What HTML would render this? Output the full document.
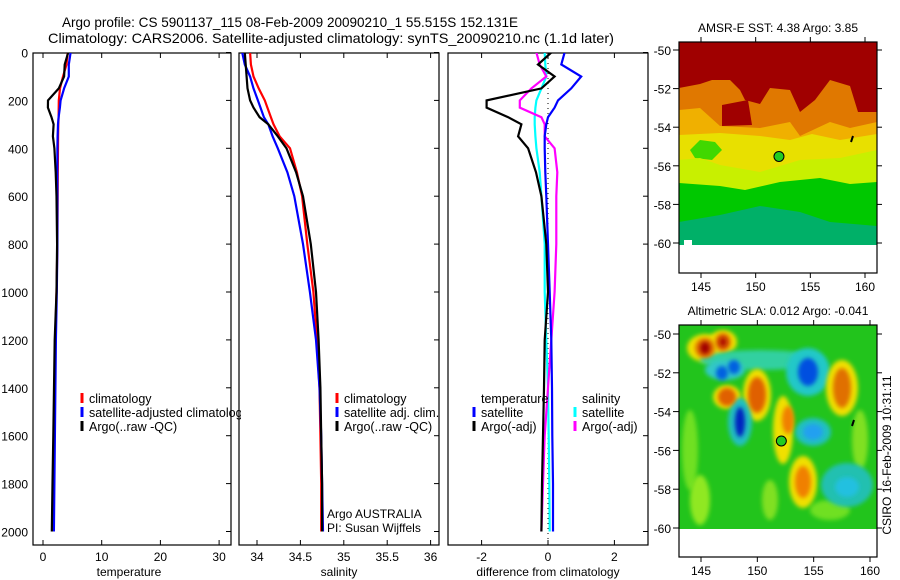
<!DOCTYPE html>
<html><head><meta charset="utf-8"><style>
html,body{margin:0;padding:0;background:#fff;}
svg{display:block;font-family:"Liberation Sans",sans-serif;}
</style></head><body>
<svg id="fig" width="900" height="580" viewBox="0 0 900 580" xmlns="http://www.w3.org/2000/svg">
<defs>
<clipPath id="c1"><rect x="33" y="53" width="198" height="492"/></clipPath>
<clipPath id="c1l"><rect x="33" y="53" width="208" height="492"/></clipPath>
<clipPath id="c2"><rect x="239" y="53" width="200" height="492"/></clipPath>
<clipPath id="c3"><rect x="448" y="53" width="200" height="492"/></clipPath>
<clipPath id="cm1"><rect x="679" y="42" width="198" height="203"/></clipPath>
<clipPath id="cm2"><rect x="679" y="325" width="198" height="204"/></clipPath>
<filter id="blur2" x="-50%" y="-50%" width="200%" height="200%"><feGaussianBlur stdDeviation="2"/></filter>
</defs>
<text x="62" y="27" font-size="14" textLength="456" lengthAdjust="spacingAndGlyphs">Argo profile: CS 5901137_115 08-Feb-2009 20090210_1 55.515S 152.131E</text>
<text x="48" y="43" font-size="14" textLength="566" lengthAdjust="spacingAndGlyphs">Climatology: CARS2006. Satellite-adjusted climatology: synTS_20090210.nc (1.1d later)</text>
<g id="p1"></g>
<g id="p2"></g>
<g id="p3"></g>
<g id="m1"></g>
<g id="m2"></g>
<text transform="translate(891,455) rotate(-90)" text-anchor="middle" font-size="12">CSIRO 16-Feb-2009 10:31:11</text>
</svg>
<script>
// ---- data ----
const depths = [0,50,100,150,200,230,270,300,350,400,500,600,800,1000,1200,1400,1600,1800,2000];
const tempClim = [4.2,4.0,3.4,2.9,2.7,2.68,2.65,2.6,2.58,2.55,2.52,2.5,2.45,2.3,2.1,2.0,1.9,1.8,1.7];
const tempSatDiff = [0.5,0.4,1.0,0.7,0.3,0.2,0.0,-0.05,-0.1,-0.1,-0.08,-0.05,0.0,0.05,0.1,0.12,0.13,0.15,0.15];
const tempArgoDiff = [0.1,-0.3,0.2,-0.2,-1.85,-1.85,-1.2,-0.8,-0.9,-0.6,-0.36,-0.2,-0.05,0.0,-0.1,-0.12,-0.15,-0.18,-0.2];
const salClim = [33.92,33.93,33.96,34.02,34.09,34.12,34.16,34.19,34.26,34.38,34.46,34.52,34.58,34.65,34.69,34.72,34.73,34.74,34.74];
const salSat = [33.83,33.86,33.92,33.96,34.01,34.04,34.08,34.13,34.18,34.24,34.35,34.43,34.53,34.61,34.68,34.72,34.74,34.75,34.76];
const salArgo = [33.86,33.87,33.88,33.89,33.92,33.96,34.03,34.13,34.24,34.34,34.45,34.53,34.62,34.68,34.71,34.73,34.74,34.75,34.75];
const salSatDiff = [-0.1,-0.08,-0.05,-0.2,-0.35,-0.38,-0.4,-0.4,-0.38,-0.35,-0.25,-0.2,-0.1,-0.1,-0.05,0.0,0.02,0.04,0.05];
const salArgoDiff = [-0.35,-0.25,-0.05,-0.5,-0.85,-0.85,-0.2,-0.1,-0.1,0.2,0.28,0.25,0.25,0.2,0.1,0.0,-0.1,-0.15,-0.2];
const depthTicks = [0,200,400,600,800,1000,1200,1400,1600,1800,2000];
const tempTicks = [0,10,20,30];
const salTicks = [34,34.5,35,35.5,36];
const salTickLabels = ["34","34.5","35","35.5","36"];
const diffTicks = [-2,0,2];
const latTicks = [-50,-52,-54,-56,-58,-60];
const lonTicks = [145,150,155,160];
const argoLon = 152.131, argoLat = -55.515;

// ---- axes ----
const NS='http://www.w3.org/2000/svg';
const yD = d => 52.5 + d*0.2395;
const xT = t => 43 + t*5.87;
const xS = s => 257 + (s-34)*86.8;
const xDf = v => 548 + v*33.2;
function el(tag, attrs, parent){const e=document.createElementNS(NS,tag);for(const k in attrs)e.setAttribute(k,attrs[k]);parent.appendChild(e);return e;}
function txt(parent,x,y,s,size,anchor){const t=el('text',{x:x,y:y,'font-size':size,'text-anchor':anchor||'start'},parent);t.textContent=s;return t;}
function line(parent,xf,vals,color,clip,name){
  const pts=vals.map((v,i)=>xf(v).toFixed(1)+','+yD(depths[i]).toFixed(1)).join(' ');
  const p=el('polyline',{points:pts,fill:'none',stroke:color,'stroke-width':2.2,'clip-path':'url(#'+clip+')'},parent);
  
  
}
function frame(g,x0,x1,name){
  const r=el('rect',{x:x0,y:53,width:x1-x0,height:492,fill:'none',stroke:'#000','stroke-width':1.2},g);
  
  
  depthTicks.forEach(d=>{el('line',{x1:x1-5,x2:x1,y1:yD(d),y2:yD(d),stroke:'#000'},g);});
}
function xticks(g,xf,ticks,labels,name){
  ticks.forEach((t,i)=>{
    el('line',{x1:xf(t),x2:xf(t),y1:53,y2:58,stroke:'#000'},g);
    el('line',{x1:xf(t),x2:xf(t),y1:545,y2:540,stroke:'#000'},g);
    const l=txt(g,xf(t),561,labels[i],12,'middle');
    
    
  });
}
function legend(g,x,y,color,label){
  el('line',{x1:x,x2:x,y1:y-10,y2:y,stroke:color,'stroke-width':3},g);
  const t=txt(g,x+7,y,label,12.5);
  
  
}

// panel 1
const p1=document.getElementById('p1');
frame(p1,33,231,'temperature-axes-frame');
depthTicks.forEach(d=>{const t=txt(p1,28,yD(d)+5,String(d),12,'end');});
xticks(p1,xT,tempTicks,tempTicks.map(String),'temperature-tick-label');
txt(p1,129,576,'temperature',12,'middle');
line(p1,xT,tempClim,'#ff0000','c1','temperature-climatology-line');
line(p1,xT,tempClim.map((v,i)=>v+tempSatDiff[i]),'#0000ff','c1','temperature-satellite-line');
line(p1,xT,tempClim.map((v,i)=>v+tempArgoDiff[i]),'#000000','c1','temperature-argo-line');
const lg1=el('g',{'clip-path':'url(#c1l)'},p1);
legend(lg1,82,403,'#ff0000','climatology');
legend(lg1,82,417,'#0000ff','satellite-adjusted climatology');
legend(lg1,82,431,'#000000','Argo(..raw -QC)');

// panel 2
const p2=document.getElementById('p2');
frame(p2,239,439,'salinity-axes-frame');
xticks(p2,xS,salTicks,salTickLabels,'salinity-tick-label');
txt(p2,339,576,'salinity',12,'middle');
line(p2,xS,salClim,'#ff0000','c2','salinity-climatology-line');
line(p2,xS,salSat,'#0000ff','c2','salinity-satellite-line');
line(p2,xS,salArgo,'#000000','c2','salinity-argo-line');
legend(p2,337,403,'#ff0000','climatology');
legend(p2,337,417,'#0000ff','satellite adj. clim.');
legend(p2,337,431,'#000000','Argo(..raw -QC)');
txt(p2,327,518,'Argo AUSTRALIA',12);
txt(p2,327,532,'PI: Susan Wijffels',12);

// panel 3
const p3=document.getElementById('p3');
frame(p3,448,648,'difference-axes-frame');
xticks(p3,xDf,diffTicks,diffTicks.map(String),'difference-tick-label');
txt(p3,548,576,'difference from climatology',12,'middle');
el('line',{x1:xDf(0),x2:xDf(0),y1:53,y2:545,stroke:'#000','stroke-dasharray':'1,4'},p3);
line(p3,xDf,salSatDiff,'#00ffff','c3','salinity-satellite-diff-line');
line(p3,xDf,salArgoDiff,'#ff00ff','c3','salinity-argo-diff-line');
line(p3,xDf,tempSatDiff,'#0000ff','c3','temperature-satellite-diff-line');
line(p3,xDf,tempArgoDiff,'#000000','c3','temperature-argo-diff-line');
txt(p3,481,403,'temperature',12.5);
legend(p3,474,417,'#0000ff','satellite');
legend(p3,474,431,'#000000','Argo(-adj)');
txt(p3,582,403,'salinity',12.5);
legend(p3,575,417,'#00ffff','satellite');
legend(p3,575,431,'#ff00ff','Argo(-adj)');

// ---- maps ----
function mapAxes(g,top,bottom,lat50,lat60,lon145,lon160,title,name){
  const yL=l=>lat50+(-50-l)*(lat60-lat50)/10;
  const xL=l=>lon145+(l-145)*(lon160-lon145)/15;
  const r=el('rect',{x:679,y:top,width:198,height:bottom-top,fill:'none',stroke:'#000','stroke-width':1.2},g);
  
  
  latTicks.forEach(l=>{
    el('line',{x1:673,x2:679,y1:yL(l),y2:yL(l),stroke:'#000'},g);
    el('line',{x1:877,x2:882,y1:yL(l),y2:yL(l),stroke:'#000'},g);
    txt(g,671,yL(l)+5,String(l),12,'end');
  });
  lonTicks.forEach(l=>{
    el('line',{x1:xL(l),x2:xL(l),y1:top-5,y2:top,stroke:'#000'},g);
    el('line',{x1:xL(l),x2:xL(l),y1:bottom,y2:bottom+5,stroke:'#000'},g);
    txt(g,xL(l),bottom+18,String(l),12,'middle');
  });
  const t=txt(g,778,top-10,title,12,'middle');
  
  
  const c=el('circle',{cx:xL(argoLon),cy:yL(argoLat),r:5,fill:'#22cc22',stroke:'#000'},g);
  
  
}
// SST map
const m1=document.getElementById('m1');
const s1=el('g',{'clip-path':'url(#cm1)'},m1);
el('rect',{x:679,y:42,width:198,height:203,fill:'#a00000'},s1);
el('polygon',{points:'679,100 679,88 700,84 712,80 730,80 740,90 745,100 760,104 770,88 790,90 800,112 815,100 830,80 850,86 858,112 877,112 877,245 679,245',fill:'#e07800'},s1);
el('polygon',{points:'722,105 748,100 752,125 722,126',fill:'#a00000'},s1);
el('polygon',{points:'679,128 679,110 700,108 720,126 760,128 790,122 800,136 830,122 850,128 877,122 877,245 679,245',fill:'#f0b000'},s1);
el('polygon',{points:'679,150 679,135 720,133 760,136 790,140 812,134 840,140 877,134 877,245 679,245',fill:'#e8e000'},s1);
el('polygon',{points:'690,150 700,140 715,142 722,150 712,160 695,158',fill:'#40d800'},s1);
el('polygon',{points:'679,188 679,160 700,158 720,165 760,172 800,160 840,158 877,150 877,245 679,245',fill:'#c8f000'},s1);
el('polygon',{points:'679,245 679,183 720,186 745,190 780,182 820,178 850,184 877,182 877,245',fill:'#00c800'},s1);
el('polygon',{points:'679,245 679,222 720,215 760,206 800,212 830,222 877,226 877,245',fill:'#00b068'},s1);
el('rect',{x:684,y:240,width:8,height:5,fill:'#fff'},s1);
el('line',{x1:851,x2:853,y1:142,y2:136,stroke:'#000','stroke-width':2},s1);
mapAxes(m1,42,273,50,243,701,865,'AMSR-E SST: 4.38 Argo: 3.85','sst-map');
// SLA map
const m2=document.getElementById('m2');
const s2=el('g',{'clip-path':'url(#cm2)'},m2);
el('rect',{x:679,y:325,width:198,height:204,fill:'#22c41c'},s2);
const blobs=[
 [690,450,8,40,'#70e020'],[700,500,10,25,'#90e820'],[860,440,8,30,'#80e020'],[830,510,20,10,'#70e020'],[770,500,8,20,'#80e020'],
 [705,348,18,14,'#f0e000'],[723,342,14,12,'#f0e000'],[760,360,60,10,'#30d0a0'],[808,372,22,24,'#20c8c8'],
 [757,395,14,26,'#f0e000'],[842,388,16,28,'#f0e000'],[727,397,14,12,'#f0e000'],[783,430,10,34,'#f0e000'],
 [803,482,14,26,'#f0e000'],[847,485,26,22,'#20c0b0'],[740,422,12,24,'#20c0c0'],[813,432,18,14,'#20c0c0'],
 [725,370,20,10,'#30c8c8'],[705,348,10,10,'#e07000'],[723,342,8,9,'#e07000'],[727,397,9,9,'#e06000'],
 [757,395,9,18,'#e06000'],[842,388,9,20,'#e07000'],[803,482,8,16,'#f08000'],[788,420,6,14,'#f08000'],
 [808,372,10,14,'#0050e0'],[740,422,5,15,'#0020c0'],[813,432,10,8,'#20a0f0'],[722,373,6,7,'#0060e0'],
 [734,367,6,7,'#0060e0'],[847,487,12,10,'#20c0e0'],[705,348,5,6,'#a00000'],[723,342,4,5,'#b01000']];
blobs.forEach(b=>{el('ellipse',{cx:b[0],cy:b[1],rx:b[2],ry:b[3],fill:b[4],filter:'url(#blur2)'},s2);});
el('line',{x1:852,x2:854,y1:426,y2:420,stroke:'#000','stroke-width':2},s2);
mapAxes(m2,325,557,334,528,701,870,'Altimetric SLA: 0.012 Argo: -0.041','sla-map');
</script>
</body></html>
